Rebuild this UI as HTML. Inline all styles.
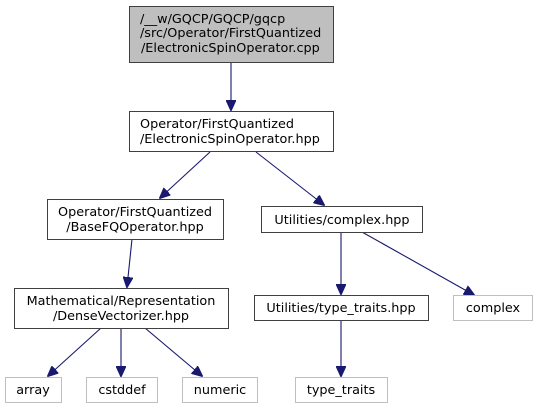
<!DOCTYPE html>
<html><head><meta charset="utf-8"><style>
html,body{margin:0;padding:0;background:#fff;}
svg{display:block;}
text{font-family:"DejaVu Sans","Liberation Sans",sans-serif;font-size:12.8px;fill:#000;}
</style></head><body>
<svg width="535" height="409" viewBox="0 0 535 409" xmlns="http://www.w3.org/2000/svg">
<defs><marker id="a" markerWidth="11" markerHeight="10" refX="10" refY="5" orient="auto" markerUnits="userSpaceOnUse"><path d="M0,0 L11,5 L0,10 Z" fill="#191970" stroke="#191970"/></marker></defs>
<g stroke="#191970" stroke-width="1.1" fill="none" marker-end="url(#a)">
<line x1="231" y1="62" x2="231" y2="110"/>
<line x1="210" y1="152" x2="160" y2="198"/>
<line x1="256" y1="152" x2="324" y2="205"/>
<line x1="132" y1="239" x2="127" y2="287"/>
<line x1="341" y1="232" x2="341" y2="294"/>
<line x1="362" y1="232" x2="474" y2="295"/>
<line x1="101" y1="328" x2="48" y2="376"/>
<line x1="121" y1="328" x2="121" y2="376"/>
<line x1="145" y1="328" x2="202" y2="376"/>
<line x1="341" y1="320" x2="341" y2="376"/>
</g>
<g stroke-width="1">
<rect x="129.5" y="6.5" width="204" height="56" fill="#bfbfbf" stroke="#404040"/>
<rect x="129.5" y="111.5" width="204" height="40" fill="#fff" stroke="#404040"/>
<rect x="47.5" y="199.5" width="176" height="40" fill="#fff" stroke="#404040"/>
<rect x="261.5" y="206.5" width="161" height="26" fill="#fff" stroke="#404040"/>
<rect x="14.5" y="288.5" width="214" height="40" fill="#fff" stroke="#404040"/>
<rect x="254.5" y="295.5" width="174" height="25" fill="#fff" stroke="#404040"/>
<rect x="453.5" y="295.5" width="79" height="25" fill="#fff" stroke="#bfbfbf"/>
<rect x="5.5" y="377.5" width="56" height="25" fill="#fff" stroke="#bfbfbf"/>
<rect x="86.5" y="377.5" width="71" height="25" fill="#fff" stroke="#bfbfbf"/>
<rect x="182.5" y="377.5" width="75" height="25" fill="#fff" stroke="#bfbfbf"/>
<rect x="295.5" y="377.5" width="92" height="25" fill="#fff" stroke="#bfbfbf"/>
</g>
<text x="140" y="23">/__w/GQCP/GQCP/gqcp</text>
<text x="140" y="37">/src/Operator/FirstQuantized</text>
<text x="141" y="52">/ElectronicSpinOperator.cpp</text>
<text x="140" y="128">Operator/FirstQuantized</text>
<text x="140" y="143">/ElectronicSpinOperator.hpp</text>
<text x="135" y="216" text-anchor="middle">Operator/FirstQuantized</text>
<text x="135" y="231" text-anchor="middle">/BaseFQOperator.hpp</text>
<text x="342" y="224" text-anchor="middle">Utilities/complex.hpp</text>
<text x="121" y="305" text-anchor="middle">Mathematical/Representation</text>
<text x="121" y="320" text-anchor="middle">/DenseVectorizer.hpp</text>
<text x="341" y="312" text-anchor="middle">Utilities/type_traits.hpp</text>
<text x="493" y="312" text-anchor="middle">complex</text>
<text x="33" y="394" text-anchor="middle">array</text>
<text x="122" y="394" text-anchor="middle">cstddef</text>
<text x="220" y="394" text-anchor="middle">numeric</text>
<text x="341" y="394" text-anchor="middle">type_traits</text>
</svg>
</body></html>
